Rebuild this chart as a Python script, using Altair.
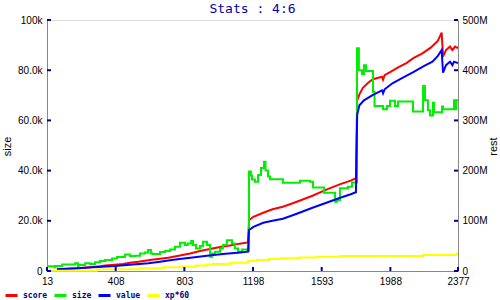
import altair as alt
import pandas as pd

# ---------------- data ----------------
x_ticks = [13, 408, 803, 1198, 1593, 1988, 2377]
left_ticks = [0, 20000, 40000, 60000, 80000, 100000]
right_ticks = [0, 100e6, 200e6, 300e6, 400e6, 500e6]

series_names = ["score", "size", "value", "xp*60"]
series_colors = ["#ff0000", "#00ee00", "#0000ff", "#ffff00"]

# size (thousands) - left axis
size_x = [13, 55, 62, 100, 174, 191, 195, 232, 260, 289,
          318, 347, 387, 416, 462, 490, 519, 548, 577, 594,
          611, 623, 663, 692, 720, 749, 778, 807, 822, 842,
          853, 870, 893, 910, 933, 951, 962, 979, 1008, 1025,
          1048, 1077, 1094, 1112, 1135, 1163,
          1175, 1186, 1192, 1209, 1227, 1244, 1261, 1270, 1284, 1296,
          1370, 1468, 1526, 1543, 1606, 1670, 1681, 1698, 1744, 1767,
          1796, 1807, 1825, 1836, 1848, 1888, 1897, 1946, 1969, 1986,
          2015, 2032, 2118, 2176, 2187, 2204, 2216, 2233, 2239, 2285,
          2291, 2354, 2362, 2368, 2377]
size_k = [1.9, 1.5, 2.0, 2.6, 3.1, 1.5, 2.4, 3.1, 2.8, 3.5,
          4.0, 4.4, 5.0, 5.6, 6.6, 6.0, 6.1, 7.0, 7.4, 8.4,
          7.0, 6.8, 7.6, 8.0, 8.6, 9.7, 11.3, 10.4, 11.0, 12.0,
          10.4, 9.0, 10.0, 11.7, 10.4, 5.7, 7.0, 7.7, 9.0, 10.4,
          12.3, 11.0, 9.0, 7.7, 8.6, 8.0,
          39.6, 38.0, 36.5, 35.6, 38.2, 41.0, 43.5, 40.0, 37.6, 36.6,
          35.2, 36.0, 35.6, 33.3, 31.2, 27.6, 28.3, 33.0, 33.6, 35.3,
          88.7, 80.0, 78.5, 82.0, 79.7, 71.4, 65.7, 64.4, 65.7, 67.8,
          65.7, 67.5, 63.5, 73.7, 68.0, 64.0, 62.0, 67.0, 63.2, 65.5,
          64.4, 68.0, 64.4, 68.0, 68.0]

# score (millions) - right axis
score_x = [70, 191, 260, 318, 347, 420, 450, 490, 538, 577,
           615, 663, 711, 740, 778, 836, 893, 951, 1008, 1065,
           1120, 1169,
           1175, 1200, 1257, 1310, 1370, 1450, 1540, 1620, 1700, 1760,
           1790,
           1797, 1810, 1830, 1860, 1888, 1940, 1946, 1955, 1986, 2030,
           2080, 2120, 2170, 2220, 2260, 2283, 2291, 2308, 2331, 2345,
           2360, 2377]
score_m = [3.4, 5.4, 7.4, 9.4, 11, 13, 14, 16.5, 18.5, 20.5,
           22.5, 24.5, 26.5, 28.5, 31, 35, 40, 44, 48, 51,
           54.5, 57,
           101, 108, 116, 123, 128, 138, 150, 162, 173, 180,
           185,
           340, 352, 365, 375, 382, 387, 381, 390, 396, 405,
           414, 424, 433, 445, 458, 475, 427, 440, 447, 440,
           447, 444]

# value (millions) - right axis
value_x = [70, 191, 279, 404, 490, 596, 663, 730, 788, 850,
           910, 970, 1040, 1110, 1169,
           1175, 1200, 1257, 1310, 1370, 1450, 1540, 1620, 1700, 1760,
           1790,
           1797, 1810, 1836, 1888, 1940, 1946, 1955, 2000, 2060, 2120,
           2180, 2230, 2260, 2283, 2291, 2308, 2331, 2345, 2354, 2377]
value_m = [3.4, 5.4, 7.4, 10, 12.5, 15.3, 18.5, 22, 24.5, 27,
           29.5, 32, 34.5, 36.5, 38.5,
           81.7, 88, 96, 100, 104, 114, 126, 136, 146, 153,
           157,
           311, 330, 340, 351, 360, 354, 362, 374, 385, 396,
           408, 417, 428, 440, 395, 410, 417, 410, 417, 414]

# xp*60 (millions) - right axis
xp_x = [13, 299, 548, 682, 778, 870, 930, 970, 1066, 1170,
        1219, 1290, 1353, 1460, 1564, 1698, 2176, 2370, 2377]
xp_m = [0.6, 3.4, 5.4, 7.4, 8.6, 11, 13, 14, 16.5, 20,
        22, 24, 25.3, 27, 28.5, 30, 32, 35, 35]

# ---------------- tables ----------------
df_size = pd.DataFrame({"x": size_x, "v": [k * 1000 for k in size_k], "series": "size"})
df_score = pd.DataFrame({"x": score_x, "v": [m * 1e6 for m in score_m], "series": "score"})
df_value = pd.DataFrame({"x": value_x, "v": [m * 1e6 for m in value_m], "series": "value"})
df_xp = pd.DataFrame({"x": xp_x, "v": [m * 1e6 for m in xp_m], "series": "xp*60"})
df_xt = pd.DataFrame({"t": x_ticks})
df_lt = pd.DataFrame({"t": left_ticks})
df_rt = pd.DataFrame({"t": right_ticks})

NAVY = "#00008b"
FONT = "DejaVu Sans Mono"
W, H = 411, 251

xscale = alt.Scale(domain=[13, 2377], nice=False, zero=False)
xaxis = alt.Axis(values=x_ticks, format="d", title=None, labelPadding=5,
                 labelFlush=False, labelOverlap=False, grid=False, ticks=False)
lscale = alt.Scale(domain=[0, 100000], nice=False)
rscale = alt.Scale(domain=[0, 500e6], nice=False)

color = alt.Color(
    "series:N",
    scale=alt.Scale(domain=series_names, range=series_colors),
    legend=alt.Legend(
        orient="none", legendX=-43, legendY=268, direction="horizontal",
        title=None, symbolType="stroke", symbolSize=144, symbolStrokeWidth=3,
        labelFont=FONT, labelFontSize=8, labelFontWeight="bold",
        labelColor=NAVY, columnPadding=0, labelOffset=4, gridAlign="none",
        padding=0,
    ),
)

X = alt.X("x:Q", scale=xscale, axis=xaxis)

score = alt.Chart(df_score).mark_line(strokeWidth=2, interpolate="linear").encode(
    x=X,
    y=alt.Y("v:Q", scale=rscale, axis=alt.Axis(
        orient="right", values=right_ticks, title="rest", grid=False, ticks=False,
        labelExpr="datum.value == 0 ? '0' : format(datum.value / 1e6, 'd') + 'M'",
        labelPadding=4, titleX=35, titleY=126, titleAngle=270,
        titleAlign="center", titleBaseline="middle",
        titleFontWeight="normal")),
    color=color,
)

size = alt.Chart(df_size).mark_line(strokeWidth=2, interpolate="step-after").encode(
    x=X,
    y=alt.Y("v:Q", scale=lscale, axis=alt.Axis(
        orient="left", values=left_ticks, title="size", grid=False, ticks=False,
        labelExpr="datum.value == 0 ? '0' : (datum.value == 100000 ? '100k' : format(datum.value / 1000, '.1f') + 'k')",
        labelPadding=5, titleX=-40, titleY=126, titleAngle=270,
        titleAlign="center", titleBaseline="middle",
        titleFontWeight="normal")),
    color=color,
)

value = alt.Chart(df_value).mark_line(strokeWidth=2, interpolate="linear").encode(
    x=X, y=alt.Y("v:Q", scale=rscale, axis=None), color=color,
)

xp = alt.Chart(df_xp).mark_line(strokeWidth=2, interpolate="step-after").encode(
    x=X, y=alt.Y("v:Q", scale=rscale, axis=None), color=color,
)

xt = alt.Chart(df_xt).mark_rule(color=NAVY, strokeWidth=2).encode(
    x=alt.X("t:Q", scale=xscale, axis=xaxis),
    y=alt.value(H), y2=alt.value(H - 4),
)
lt = alt.Chart(df_lt).mark_rule(color=NAVY, strokeWidth=2).encode(
    y=alt.Y("t:Q", scale=lscale, axis=None),
    x=alt.value(0), x2=alt.value(4),
)
rt = alt.Chart(df_rt).mark_rule(color=NAVY, strokeWidth=2).encode(
    y=alt.Y("t:Q", scale=rscale, axis=None),
    x=alt.value(W - 4), x2=alt.value(W),
)

chart = alt.layer(score, size, value, xp, xt, lt, rt).resolve_scale(
    y="independent"
).properties(
    width=W, height=H,
    padding={"left": 47, "top": 20, "right": 42, "bottom": 29},
    autosize=alt.AutoSizeParams(type="none"),
    title=alt.TitleParams("Stats : 4:6", font=FONT, fontSize=13, color="#0000aa",
                          fontWeight="normal", anchor="middle", offset=-1),
).configure_view(stroke=None).configure_axis(
    domainColor=NAVY, domainWidth=2, ticks=False, grid=False,
    labelFont=FONT, labelFontSize=8, labelFontWeight="bold", labelColor="black",
    titleFont=FONT, titleFontSize=9, titleFontWeight="normal", titleColor=NAVY,
).configure_title(fontWeight="normal").configure(background="white")

chart.save("out.html", embed_options={"renderer": "svg", "actions": False})
